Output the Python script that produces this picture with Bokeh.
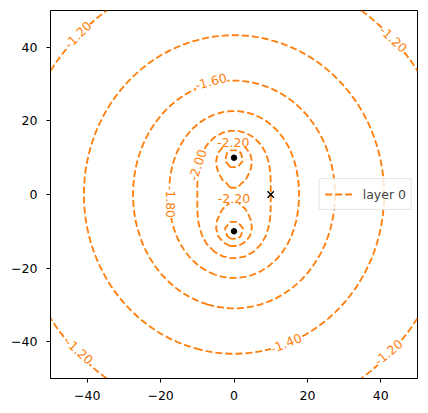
import numpy as np
import contourpy
from bokeh.plotting import figure
from bokeh.models import Range1d, FixedTicker, CustomJSTickFormatter, Legend, LegendItem
from bokeh.core.properties import value
from bokeh.embed import file_html
from bokeh.resources import INLINE

# ---- data ----
well_x = [0.0, 0.0]
well_y = [10.0, -10.0]
well_coef = 0.275          # Q / (2 pi T) of each well
ref_x = [10.0]
ref_y = [0.0]
ref_head = -2.0
levels = [-2.4, -2.2, -2.0, -1.8, -1.6, -1.4, -1.2]
win = [-50, 50, -50, 50]
ngr = 50
ticks = [-40, -20, 0, 20, 40]
legend_label = "layer 0"

label_text = ["-1.20", "-1.20", "-1.20", "-1.20", "-1.40", "-1.60",
              "-1.80", "-2.00", "-2.20", "-2.20"]
label_x = [-42.5, 43.4, -42.2, 42.1, 14.2, -6.3, -17.2, -9.9, -0.2, 0.0]
label_y = [43.4, 42.2, -42.6, -42.9, -40.4, 30.7, -2.0, 8.0, 14.2, -1.1]
label_angle = [45, -43, -42, 40, 22, 15, -90, 72, 0, 0]

ORANGE = "#ff7f0e"
FONT = "DejaVu Sans"
FS = "12.5px"

# ---- head field on grid ----
xg = np.linspace(win[0], win[1], ngr)
yg = np.linspace(win[2], win[3], ngr)
X, Y = np.meshgrid(xg, yg)


def pot(x, y):
    s = 0.0
    for wx, wy in zip(well_x, well_y):
        s = s + well_coef * np.log(np.hypot(x - wx, y - wy))
    return s


const = ref_head - pot(ref_x[0], ref_y[0])
H = const + pot(X, Y)

gen = contourpy.contour_generator(xg, yg, H)
xs, ys = [], []
for lev in levels:
    for seg in gen.lines(lev):
        seg = np.asarray(seg)
        xs.append(seg[:, 0].tolist())
        ys.append(seg[:, 1].tolist())

# ---- figure ----
p = figure(frame_width=367, frame_height=368,
           x_range=Range1d(win[0], win[1]), y_range=Range1d(win[2], win[3]),
           output_backend="svg", toolbar_location=None,
           min_border_left=50, min_border_right=3, min_border_top=10,
           min_border_bottom=25)
p.grid.visible = False
p.outline_line_color = "black"
p.outline_line_width = 1
p.background_fill_color = "white"

fmt = CustomJSTickFormatter(code="return tick < 0 ? '\u2212' + (-tick) : '' + tick;")
for ax in (p.xaxis[0], p.yaxis[0]):
    ax.ticker = FixedTicker(ticks=ticks)
    ax.formatter = fmt
    ax.major_label_text_font = FONT
    ax.major_label_text_font_size = FS
    ax.major_label_text_color = "black"
    ax.major_tick_out = 4
    ax.major_tick_in = 0
    ax.minor_tick_out = 0
    ax.minor_tick_in = 0
    ax.axis_line_color = "black"
p.xaxis[0].major_label_standoff = 8
p.yaxis[0].major_label_standoff = 9

r = p.multi_line(xs, ys, line_color=ORANGE, line_width=1.85, line_dash="7 3")

p.text(x=label_x, y=label_y, text=label_text, angle=label_angle, angle_units="deg",
       text_align="center", text_baseline="middle", text_color=ORANGE,
       text_font=value(FONT), text_font_size=FS,
       background_fill_color="white")

p.scatter(well_x, well_y, marker="circle", size=5.5, color="black")
p.scatter(ref_x, ref_y, marker="x", size=9, line_color="black", line_width=1.4)

legend = Legend(items=[LegendItem(label=legend_label, renderers=[r])],
                location="right")
legend.label_text_font = FONT
legend.label_text_font_size = FS
legend.border_line_color = "#cccccc"
legend.background_fill_alpha = 0.8
legend.margin = 5
legend.padding = 5
legend.glyph_width = 28
legend.label_standoff = 10
legend.spacing = 0
p.add_layout(legend)

open("out.html", "w").write(file_html(p, INLINE))
